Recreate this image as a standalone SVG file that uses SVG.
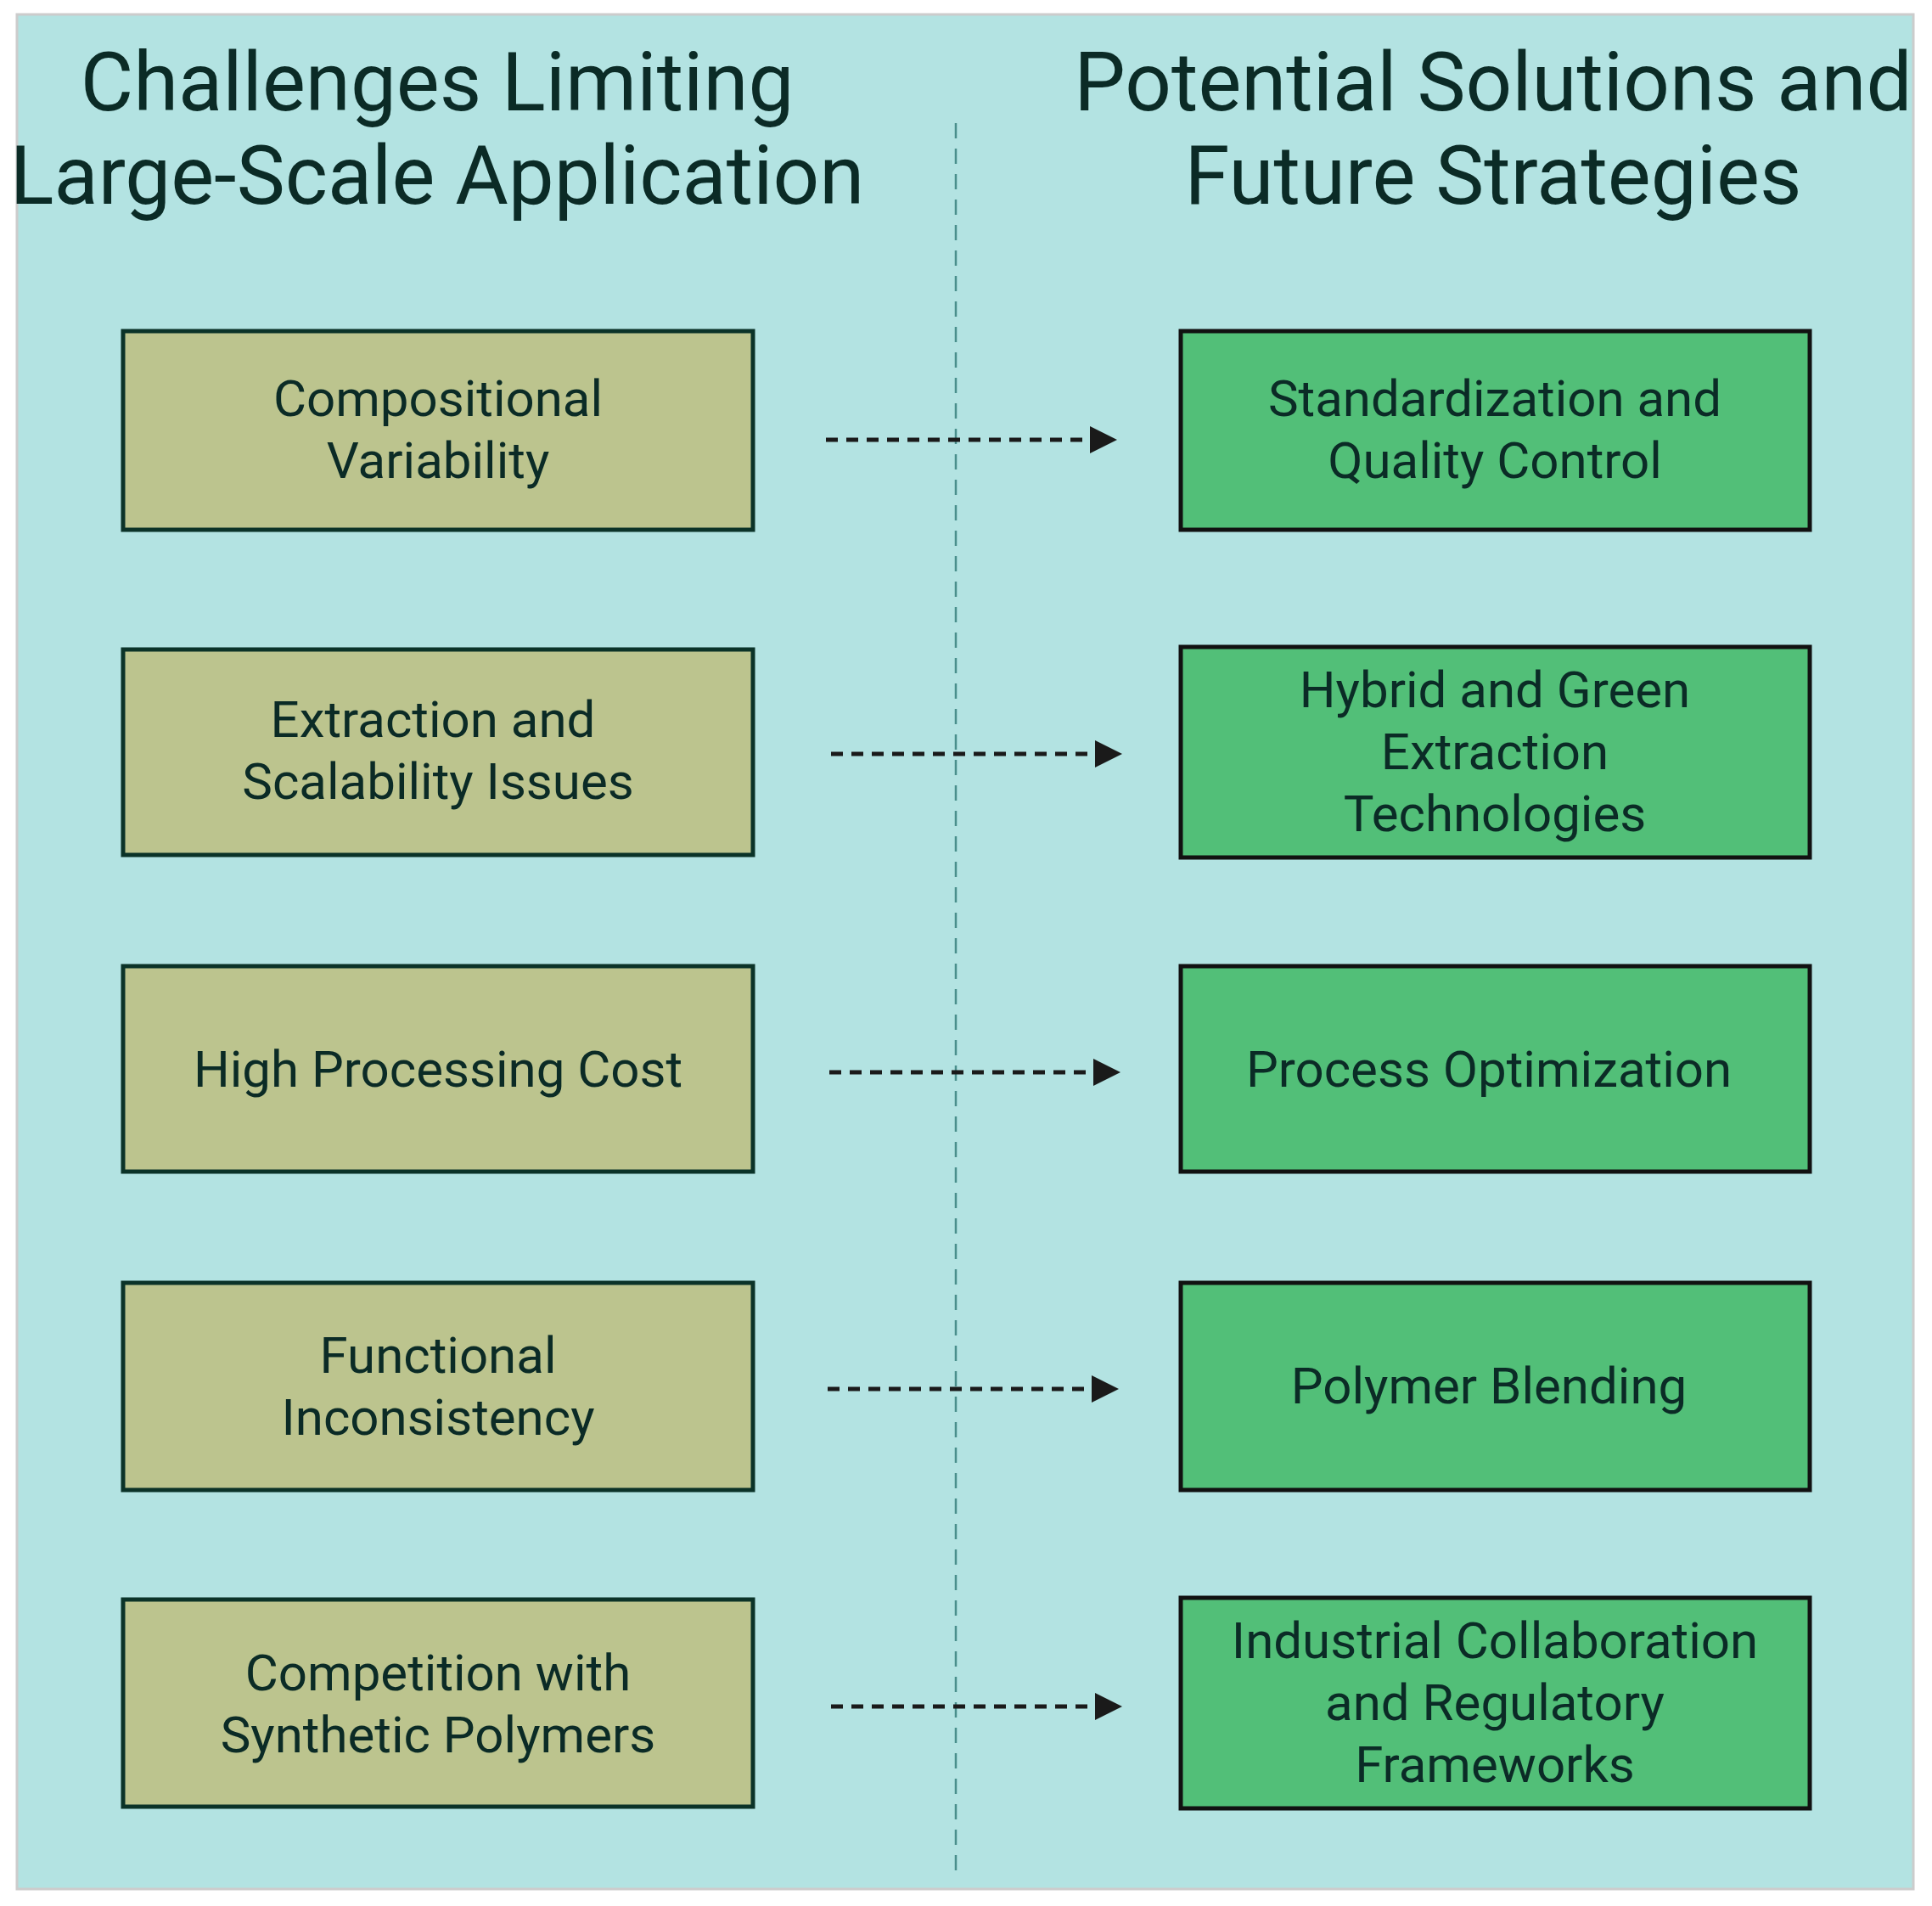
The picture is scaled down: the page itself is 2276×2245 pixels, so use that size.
<svg xmlns="http://www.w3.org/2000/svg" width="2276" height="2245" viewBox="0 0 2276 2245">
<style>
text{font-family:Roboto,"Liberation Sans",sans-serif;fill:#0b2b26;text-anchor:middle}
.t{font-size:96px}
.n{font-size:60px}
.l{fill:#bcc48e;stroke:#0b3328;stroke-width:5}
.r{fill:#52bf78;stroke:#111;stroke-width:5}
.a{stroke:#1a1a1a;stroke-width:5;stroke-dasharray:14 10;fill:none;marker-end:url(#ah)}
</style>
<defs><marker id="ah" markerWidth="10" markerHeight="10" refX="0" refY="5" orient="auto" markerUnits="userSpaceOnUse" viewBox="0 0 10 10"><path d="M0 0L10 5L0 10z" fill="#1a1a1a"/></marker>
<marker id="ah2" viewBox="0 0 10 10" refX="0" refY="5" markerWidth="32" markerHeight="32" markerUnits="userSpaceOnUse" orient="auto"><path d="M0 0L10 5L0 10z" fill="#1a1a1a"/></marker></defs>
<rect x="20" y="17" width="2234" height="2208" fill="#b3e3e2" stroke="#cccccc" stroke-width="3"/>
<g id="titles">
<text class="t" x="515" y="130">Challenges Limiting</text>
<text class="t" x="515" y="240">Large-Scale Application</text>
<text class="t" x="1759" y="130">Potential Solutions and</text>
<text class="t" x="1759" y="240">Future Strategies</text>
</g>
<line x1="1126" y1="145" x2="1126" y2="2213" stroke="#4a8f8c" stroke-width="2.5" stroke-dasharray="18 12"/>
<g id="connectors">
<path class="a" d="M973 518H1284" style="marker-end:url(#ah2)"/>
<path class="a" d="M979 888H1290" style="marker-end:url(#ah2)"/>
<path class="a" d="M977 1263H1288" style="marker-end:url(#ah2)"/>
<path class="a" d="M975 1636H1286" style="marker-end:url(#ah2)"/>
<path class="a" d="M979 2010H1290" style="marker-end:url(#ah2)"/>
</g>
<g id="c1"><rect class="l" x="145" y="390" width="742" height="234"/><text class="n" x="516" y="490">Compositional</text><text class="n" x="516" y="563">Variability</text></g>
<g id="c2"><rect class="l" x="145" y="765" width="742" height="242"/><text class="n" x="510" y="868">Extraction and</text><text class="n" x="516" y="941">Scalability Issues</text></g>
<g id="c3"><rect class="l" x="145" y="1138" width="742" height="242"/><text class="n" x="516" y="1280">High Processing Cost</text></g>
<g id="c4"><rect class="l" x="145" y="1511" width="742" height="244"/><text class="n" x="516" y="1617">Functional</text><text class="n" x="516" y="1690">Inconsistency</text></g>
<g id="c5"><rect class="l" x="145" y="1884" width="742" height="244"/><text class="n" x="516" y="1991">Competition with</text><text class="n" x="516" y="2064">Synthetic Polymers</text></g>
<g id="s1"><rect class="r" x="1391" y="390" width="741" height="234"/><text class="n" x="1761" y="490">Standardization and</text><text class="n" x="1761" y="563">Quality Control</text></g>
<g id="s2"><rect class="r" x="1391" y="762" width="741" height="248"/><text class="n" x="1761" y="833">Hybrid and Green</text><text class="n" x="1761" y="906">Extraction</text><text class="n" x="1761" y="979">Technologies</text></g>
<g id="s3"><rect class="r" x="1391" y="1138" width="741" height="242"/><text class="n" x="1754" y="1280">Process Optimization</text></g>
<g id="s4"><rect class="r" x="1391" y="1511" width="741" height="244"/><text class="n" x="1754" y="1653">Polymer Blending</text></g>
<g id="s5"><rect class="r" x="1391" y="1882" width="741" height="248"/><text class="n" x="1761" y="1953">Industrial Collaboration</text><text class="n" x="1761" y="2026">and Regulatory</text><text class="n" x="1761" y="2099">Frameworks</text></g>
</svg>
